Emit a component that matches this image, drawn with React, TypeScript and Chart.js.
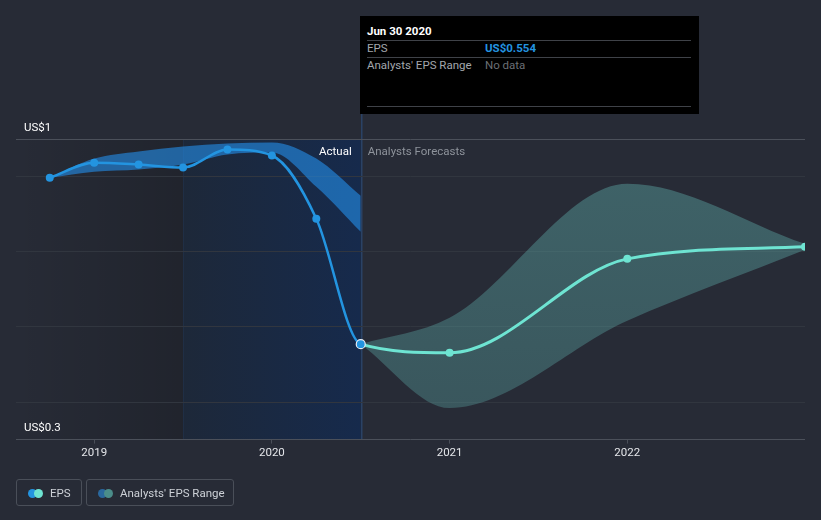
import React, { useEffect, useRef } from 'react';
import { Chart, registerables } from 'chart.js';

Chart.register(...registerables);

// ---- data (x values are fractional years) ----
const actualDates = [2018.75, 2019.0, 2019.25, 2019.5, 2019.75, 2020.0, 2020.25, 2020.5];
const actualEps = [0.997, 1.037, 1.032, 1.024, 1.072, 1.056, 0.888, 0.554];
const actualRangeHigh = [0.997, 1.048, 1.067, 1.08, 1.088, 1.091, 1.048, 0.949];
const actualRangeLow = [0.997, 1.013, 1.019, 1.032, 1.059, 1.064, 0.973, 0.853];
const forecastDates = [2020.5, 2021.0, 2022.0, 2023.0];
const forecastEps = [0.554, 0.531, 0.781, 0.813];
const forecastHigh = [0.554, 0.624, 0.981, 0.821];
const forecastLow = [0.554, 0.384, 0.616, 0.805];
const yearTicks = [2019, 2020, 2021, 2022];
const yGridValues = [0.3, 0.4, 0.6, 0.8, 1.0, 1.1];
const yLabelTop = 'US$1';
const yLabelBottom = 'US$0.3';
const pastShadeEnd = 2019.5;
const nowDate = 2020.5;

const BG = '#272b36';
const BLUE = '#2394e0';
const TEAL = '#6ee4d2';
const FONT = 'Roboto, "Noto Sans", sans-serif';
const FS = 11.5;

const pts = (xs: number[], ys: number[]) => xs.map((x, i) => ({ x, y: ys[i] }));

// one continuous EPS series (actual followed by forecast), coloured per segment
const epsDates = [...actualDates, ...forecastDates.slice(1)];
const epsValues = [...actualEps, ...forecastEps.slice(1)];
const lastActual = actualDates.length - 1;

const decorPlugin = {
  id: 'decor',
  beforeDraw(chart: any) {
    const { ctx, chartArea: a, scales } = chart;
    const xs = scales.x;
    ctx.save();
    ctx.fillStyle = BG;
    ctx.fillRect(0, 0, chart.width, chart.height);
    const xPast = xs.getPixelForValue(pastShadeEnd);
    const xNow = xs.getPixelForValue(nowDate);
    let g = ctx.createLinearGradient(a.left, 0, xPast, 0);
    g.addColorStop(0, 'rgba(0,0,0,0)');
    g.addColorStop(1, 'rgba(0,0,0,0.17)');
    ctx.fillStyle = g;
    ctx.fillRect(a.left, a.top, xPast - a.left, a.bottom - a.top);
    g = ctx.createLinearGradient(xPast, 0, xNow, 0);
    g.addColorStop(0, 'rgb(29,40,57)');
    g.addColorStop(1, 'rgb(22,42,76)');
    ctx.fillStyle = g;
    ctx.fillRect(xPast, a.top, xNow - xPast, a.bottom - a.top);
    ctx.fillStyle = 'rgba(40,70,115,0.22)';
    ctx.fillRect(Math.round(xPast), a.top, 1, a.bottom - a.top);
    ctx.fillStyle = 'rgba(45,85,140,0.55)';
    ctx.fillRect(Math.round(xNow), 114, 1.5, a.bottom - 114);
    ctx.restore();
  },
  afterDraw(chart: any) {
    const { ctx, chartArea: a, scales } = chart;
    const xNow = scales.x.getPixelForValue(nowDate);
    const ys = scales.y;
    ctx.save();
    ctx.font = `${FS}px ${FONT}`;
    ctx.textBaseline = 'middle';
    ctx.fillStyle = '#ffffff';
    ctx.textAlign = 'left';
    ctx.fillText(yLabelTop, a.left + 8, ys.getPixelForValue(1.1) - 11);
    ctx.fillText(yLabelBottom, a.left + 8, ys.getPixelForValue(0.3) - 11);
    ctx.textAlign = 'right';
    ctx.fillText('Actual', xNow - 9, a.top + 13);
    ctx.textAlign = 'left';
    ctx.fillStyle = '#8e939b';
    ctx.fillText('Analysts Forecasts', xNow + 7, a.top + 13);
    ctx.restore();
  },
};

export default function App() {
  const canvasRef = useRef<HTMLCanvasElement | null>(null);

  useEffect(() => {
    document.body.style.margin = '0';
    const canvas = canvasRef.current;
    if (!canvas) return;
    const chart = new Chart(canvas, {
      type: 'line',
      data: {
        datasets: [
          {
            label: 'EPS',
            data: pts(epsDates, epsValues),
            borderColor: BLUE,
            borderWidth: 2.5,
            segment: {
              borderColor: (c: any) => (c.p0DataIndex >= lastActual ? TEAL : BLUE),
              borderWidth: (c: any) => (c.p0DataIndex >= lastActual ? 3 : 2.5),
            },
            pointRadius: epsDates.map((_, i) => (i === lastActual ? 4.5 : 4)),
            pointBackgroundColor: epsDates.map((_, i) => (i > lastActual ? TEAL : BLUE)),
            pointBorderColor: epsDates.map((_, i) => (i === lastActual ? '#e8eef5' : 'rgba(0,0,0,0)')),
            pointBorderWidth: epsDates.map((_, i) => (i === lastActual ? 1.2 : 0)),
            cubicInterpolationMode: 'monotone',
            fill: false,
          },
          {
            label: 'Actual range high',
            data: pts(actualDates, actualRangeHigh),
            borderColor: 'rgba(0,0,0,0)',
            borderWidth: 0,
            pointRadius: 0,
            backgroundColor: 'rgba(35,140,230,0.62)',
            cubicInterpolationMode: 'monotone',
            fill: '+1',
          },
          {
            label: 'Actual range low',
            data: pts(actualDates, actualRangeLow),
            borderColor: 'rgba(0,0,0,0)',
            borderWidth: 0,
            pointRadius: 0,
            cubicInterpolationMode: 'monotone',
            fill: false,
          },
          {
            label: "Analysts' EPS Range high",
            data: pts(forecastDates, forecastHigh),
            borderColor: 'rgba(0,0,0,0)',
            borderWidth: 0,
            pointRadius: 0,
            backgroundColor: (c: any) => {
              const a = c.chart.chartArea;
              if (!a) return 'rgba(95,175,172,0.38)';
              const g = c.chart.ctx.createLinearGradient(0, a.top, 0, a.bottom);
              g.addColorStop(0, 'rgba(95,175,172,0.43)');
              g.addColorStop(1, 'rgba(95,175,172,0.32)');
              return g;
            },
            cubicInterpolationMode: 'monotone',
            fill: '+1',
          },
          {
            label: "Analysts' EPS Range low",
            data: pts(forecastDates, forecastLow),
            borderColor: 'rgba(0,0,0,0)',
            borderWidth: 0,
            pointRadius: 0,
            cubicInterpolationMode: 'monotone',
            fill: false,
          },
        ],
      },
      options: {
        animation: false,
        responsive: false,
        events: [],
        layout: { padding: { left: 16, right: 16, top: 139, bottom: 56.6 } },
        plugins: { legend: { display: false }, tooltip: { enabled: false } },
        scales: {
          x: {
            type: 'linear',
            min: 2018.56,
            max: 2023,
            afterBuildTicks: (s: any) => {
              s.ticks = yearTicks.map((v) => ({ value: v }));
            },
            ticks: {
              color: '#e4e6ea',
              font: { family: FONT, size: FS },
              padding: 3,
              maxRotation: 0,
              autoSkip: false,
              callback: (v: any) => String(v),
            },
            grid: { drawOnChartArea: false, drawTicks: true, tickLength: 4, color: '#4a4f59' },
            border: { display: false },
          },
          y: {
            type: 'linear',
            min: 0.3,
            max: 1.1,
            afterBuildTicks: (s: any) => {
              s.ticks = yGridValues.map((v) => ({ value: v }));
            },
            ticks: { display: false },
            border: { display: false },
            grid: {
              drawTicks: false,
              color: (c: any) =>
                c.tick && (c.tick.value === 0.3 || c.tick.value === 1.1) ? '#4b505a' : '#31363f',
            },
          },
        },
      },
      plugins: [decorPlugin],
    } as any);
    return () => chart.destroy();
  }, []);

  const txt: React.CSSProperties = { position: 'absolute', fontFamily: FONT, fontSize: FS, whiteSpace: 'nowrap', lineHeight: '14px' };
  const hr = (top: number): React.CSSProperties => ({ position: 'absolute', left: 7, width: 324, top, height: 1, background: '#3f4248' });
  const legendBox = (left: number, width: number): React.CSSProperties => ({
    position: 'absolute', left, top: 479, width, height: 27, boxSizing: 'border-box',
    border: '1px solid #4a4f59', borderRadius: 3,
  });
  const dot = (left: number, color: string): React.CSSProperties => ({
    position: 'absolute', left, top: 8.5, width: 9, height: 9, borderRadius: '50%', background: color,
  });

  return (
    <div style={{ position: 'absolute', left: 0, top: 0, width: 821, height: 520, background: BG, overflow: 'hidden' }}>
      <canvas ref={canvasRef} width={821} height={520} style={{ position: 'absolute', left: 0, top: 0, width: 821, height: 520 }} />
      <div style={{ position: 'absolute', left: 360, top: 16, width: 339, height: 98, background: '#000' }}>
        <div style={{ ...txt, left: 7, top: 8, color: '#fff', fontWeight: 700 }}>Jun 30 2020</div>
        <div style={hr(24)} />
        <div style={{ ...txt, left: 7, top: 25, color: '#a3a7ad' }}>EPS</div>
        <div style={{ ...txt, left: 125, top: 25, color: BLUE, fontWeight: 700 }}>US$0.554</div>
        <div style={hr(41)} />
        <div style={{ ...txt, left: 7, top: 42, color: '#a3a7ad' }}>Analysts' EPS Range</div>
        <div style={{ ...txt, left: 125, top: 42, color: '#6b6f75' }}>No data</div>
        <div style={hr(90)} />
      </div>
      <div style={legendBox(16, 66)}>
        <div style={dot(11, BLUE)} />
        <div style={dot(17, TEAL)} />
        <div style={{ ...txt, left: 33, top: 6, color: '#cdd1d7' }}>EPS</div>
      </div>
      <div style={legendBox(86, 148)}>
        <div style={dot(11, '#2a689e')} />
        <div style={dot(17, '#4b8d8a')} />
        <div style={{ ...txt, left: 33, top: 6, color: '#cdd1d7' }}>Analysts' EPS Range</div>
      </div>
    </div>
  );
}
